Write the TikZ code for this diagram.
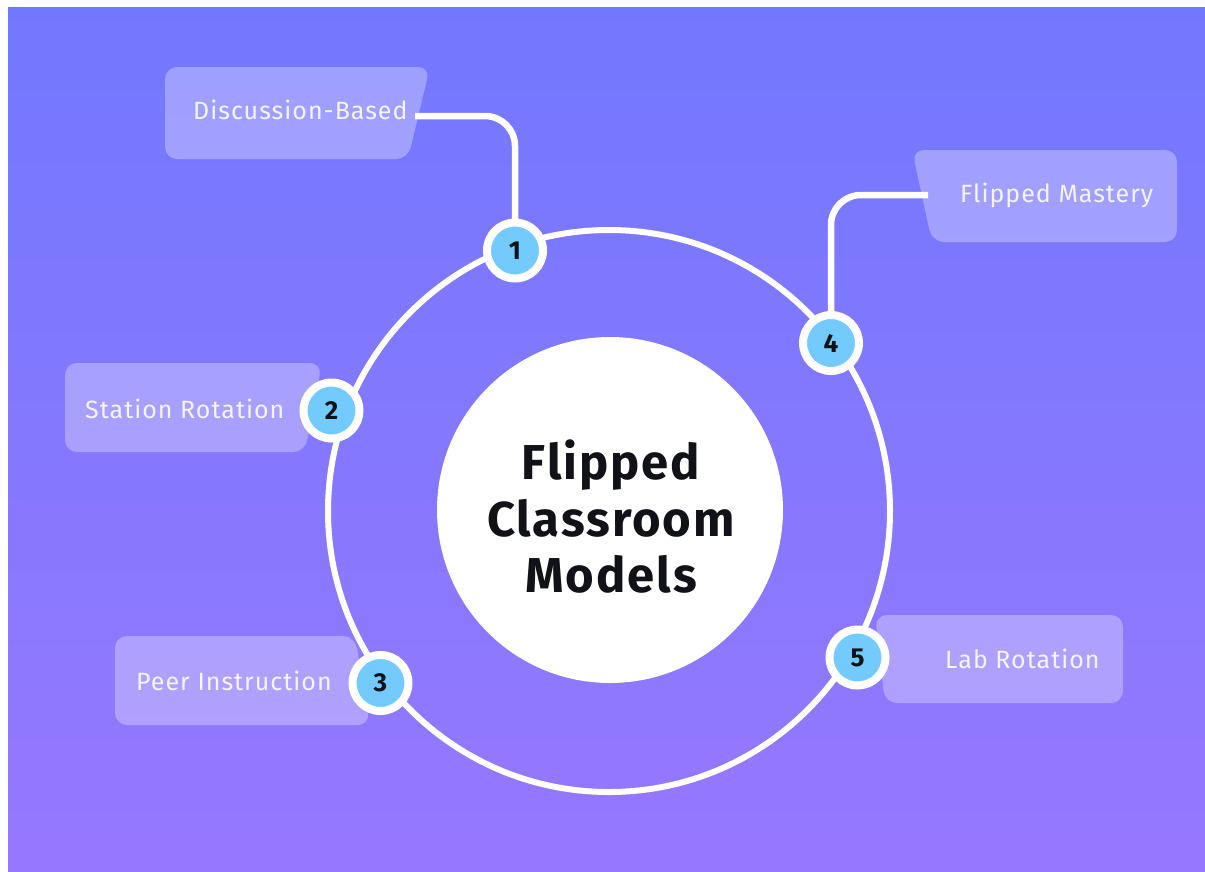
\documentclass[tikz,border=0pt]{standalone}
\usepackage{fontspec}
\setmainfont{Fira Sans}
\definecolor{bgtop}{RGB}{114,120,254}
\definecolor{bgbot}{RGB}{150,120,254}
\definecolor{badgeblue}{RGB}{114,203,252}
\definecolor{labeltext}{RGB}{246,244,255}
\definecolor{ink}{RGB}{17,17,24}
\tikzset{
  ring/.style={circle, draw=white, line width=6pt, inner sep=0pt},
  hub/.style={circle, fill=white, inner sep=0pt, minimum size=346pt},
  badge/.style={circle, fill=badgeblue, draw=white, line width=8pt,
    inner sep=0pt, minimum size=56pt, text=ink,
    font=\fontsize{26}{26}\selectfont\bfseries},
  tag/.style={fill=white, fill opacity=0.3, rounded corners=12pt},
  tagtext/.style={anchor=base west, inner sep=0pt, text=labeltext,
    font=\fontsize{25}{28}\selectfont\addfontfeatures{LetterSpace=4}},
  link/.style={draw=white, line width=6.5pt, rounded corners=30pt},
  title/.style={align=center, text=ink, inner sep=0pt,
    font=\fontsize{49}{56.5}\selectfont\bfseries\addfontfeatures{LetterSpace=4}}
}
\begin{document}
\begin{tikzpicture}[x=1pt, y=-1pt]
\useasboundingbox (0,0) rectangle (1205,871);
\fill[white] (0,0) rectangle (1205,871);
\shade[top color=bgtop, bottom color=bgbot] (8,7) rectangle (1205,871);

% label tabs
\fill[tag] (165,67) -- (430,67) -- (408,159) -- (165,159) -- cycle;
\fill[tag] (912,150) -- (1177,150) -- (1177,242) -- (932,242) -- cycle;
\fill[tag] (65,363) -- (322,363) -- (305,452) -- (65,452) -- cycle;
\fill[tag] (115,636) -- (355,636) -- (370,725) -- (115,725) -- cycle;
\fill[tag] (875,615) -- (1123,615) -- (1123,703) -- (885,703) -- cycle;

\node[tagtext] (l1) at (193,119) {Discussion-Based};
\node[tagtext] (l4) at (960,202) {Flipped Mastery};
\node[tagtext] (l2) at (85,418) {Station Rotation};
\node[tagtext] (l3) at (136,690) {Peer Instruction};
\node[tagtext] (l5) at (945,668) {Lab Rotation};

% outer ring and central disc
\node[ring, minimum size=562pt] (loop) at (609,511) {};
\node[hub] (hub) at (610,510) {};
\node[title] (ttl) at (611,517) {Flipped\\Classroom\\Models};

% badge centres and leader-line ends
\coordinate (p1) at (515,250.5);
\coordinate (p4) at (831,343);
\coordinate (c1) at (415,116);
\coordinate (c4) at (928,195);

% leader lines to the upper tabs
\draw[link] (p1) |- (c1);
\draw[link] (p4) |- (c4);

% numbered badges
\node[badge] (b1) at (p1) {1};
\node[badge] (b2) at (331.5,410.5) {2};
\node[badge] (b3) at (380.5,683) {3};
\node[badge] (b4) at (p4) {4};
\node[badge] (b5) at (857.5,657.5) {5};
\end{tikzpicture}
\end{document}
